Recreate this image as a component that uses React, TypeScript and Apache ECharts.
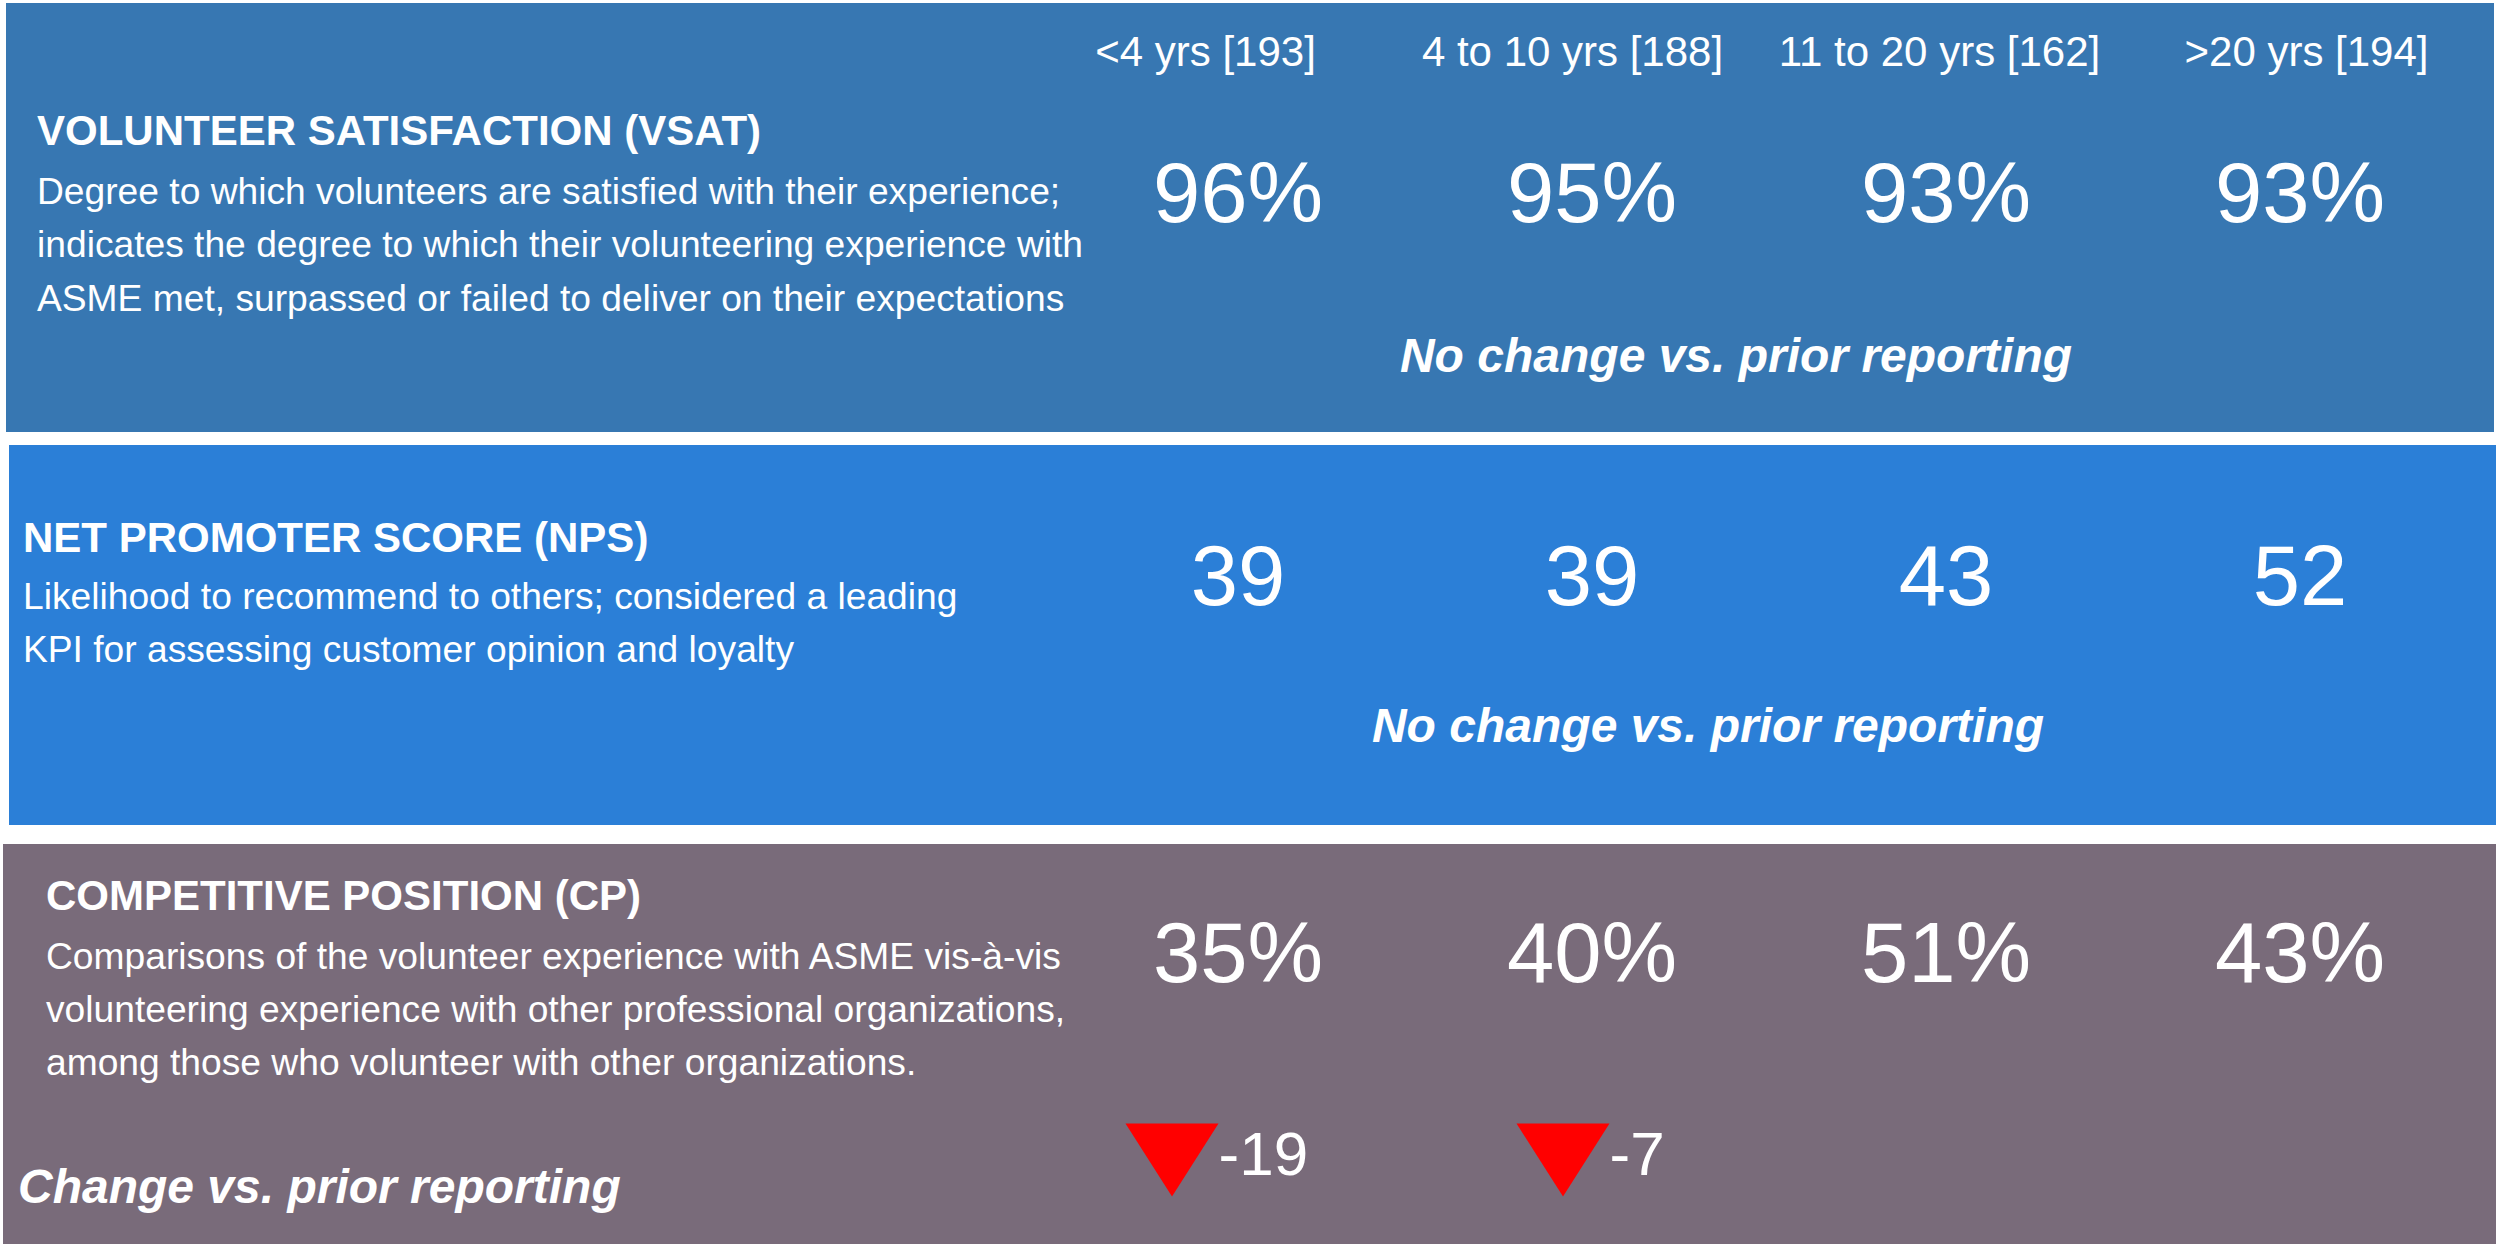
import { useEffect, useRef } from "react";
import * as echarts from "echarts";

// ---- data ----
const tenureGroups = ["<4 yrs [193]", "4 to 10 yrs [188]", "11 to 20 yrs [162]", ">20 yrs [194]"];
const metricKeys = ["VSAT", "NPS", "CP"];
const vsatValues = [96, 95, 93, 93];
const npsValues = [39, 39, 43, 52];
const cpValues = [35, 40, 51, 43];
const cpChange: (number | null)[] = [-19, -7, null, null];
const metricTitles = [
  "VOLUNTEER SATISFACTION (VSAT)",
  "NET PROMOTER SCORE (NPS)",
  "COMPETITIVE POSITION (CP)",
];
const metricDescriptions = [
  [
    "Degree to which volunteers are satisfied with their experience;",
    "indicates the degree to which their volunteering experience with",
    "ASME met, surpassed or failed to deliver on their expectations",
  ],
  [
    "Likelihood to recommend to others; considered a leading",
    "KPI for assessing customer opinion and loyalty",
  ],
  [
    "Comparisons of the volunteer experience with ASME vis-à-vis",
    "volunteering experience with other professional organizations,",
    "among those who volunteer with other organizations.",
  ],
];
const changeNotes = [
  "No change vs. prior reporting",
  "No change vs. prior reporting",
  "Change vs. prior reporting",
];
const valueSuffix = ["%", "", "%"];

// ---- styles ----
const FONT = "'Liberation Sans', Arial, Helvetica, sans-serif";
const panelColors = ["#3777B2", "#2B7FD7", "#796B7A"];

export default function App() {
  const ref = useRef<HTMLDivElement>(null);

  useEffect(() => {
    if (!ref.current) return;
    const chart = echarts.init(ref.current, null, { renderer: "svg" });

    const rowValues = [vsatValues, npsValues, cpValues];

    const panels = [
      { x: 6, y: 3, width: 2488, height: 429 },
      { x: 9, y: 445, width: 2487, height: 380 },
      { x: 3, y: 844, width: 2493, height: 400 },
    ];
    const textLeft = [37, 23, 46];
    const titleY = [130, 537, 895];
    const descTop = [164, 569, 929];
    const descLH = [53.5, 53, 53];
    const notePos = [
      { x: 1736, y: 355, align: "center" },
      { x: 1708, y: 725, align: "center" },
      { x: 18, y: 1186, align: "left" },
    ];

    const graphic: any[] = [];
    panels.forEach((p, i) => {
      graphic.push({ type: "rect", shape: p, style: { fill: panelColors[i] }, z: 0, silent: true });
    });
    metricTitles.forEach((t, i) => {
      graphic.push({
        type: "text", x: textLeft[i], y: titleY[i], z: 1,
        style: { text: t, fill: "#fff", fontSize: 42, fontWeight: "bold", fontFamily: FONT, align: "left", verticalAlign: "middle" },
      });
      graphic.push({
        type: "text", x: textLeft[i], y: descTop[i], z: 1,
        style: {
          text: metricDescriptions[i].join("\n"), fill: "#fff", fontSize: 37.2, fontFamily: FONT,
          lineHeight: descLH[i], align: "left", verticalAlign: "top",
        },
      });
      graphic.push({
        type: "text", x: notePos[i].x, y: notePos[i].y, z: 1,
        style: {
          text: changeNotes[i], fill: "#fff", fontSize: 48, fontWeight: "bold", fontStyle: "italic",
          fontFamily: FONT, align: notePos[i].align, verticalAlign: "middle",
        },
      });
    });

    const grids = [
      { left: 1022, width: 1468, top: 20, height: 31 },
      { left: 1061, width: 1416, top: 150, height: 84 },
      { left: 1061, width: 1416, top: 540, height: 70 },
      { left: 1061, width: 1416, top: 920, height: 64 },
      { left: 1172, width: 1173, top: 1130, height: 60 },
    ];
    const rowOfGrid = [0, 0, 1, 2, 2];

    const xAxis = grids.map((_, gi) => ({
      type: "category",
      gridIndex: gi,
      data: tenureGroups,
      show: gi === 0,
      boundaryGap: gi !== 4,
      axisLine: { show: false },
      axisTick: { show: false },
      splitLine: { show: false },
      axisLabel: {
        show: gi === 0, interval: 0, margin: 0, color: "#fff", fontSize: 42,
        fontFamily: FONT, verticalAlign: "middle",
      },
    }));
    const yAxis = grids.map((_, gi) => ({
      type: "category",
      gridIndex: gi,
      data: [metricKeys[rowOfGrid[gi]]],
      show: false,
    }));

    const series: any[] = rowValues.map((vals, r) => ({
      type: "scatter",
      xAxisIndex: r + 1,
      yAxisIndex: r + 1,
      symbol: "circle",
      symbolSize: 1,
      itemStyle: { color: "rgba(0,0,0,0)", opacity: 1 },
      data: vals.map((v, i) => [tenureGroups[i], metricKeys[r], v]),
      label: {
        show: true, position: "inside", color: "#fff", fontSize: 85, fontFamily: FONT,
        formatter: (p: any) => p.value[2] + valueSuffix[r],
      },
      emphasis: { disabled: true },
      z: 3,
    }));

    series.push({
      type: "scatter",
      xAxisIndex: 4,
      yAxisIndex: 4,
      symbol: "path://M0,0 L93,0 L46.5,73 Z",
      symbolSize: [93, 73],
      itemStyle: { color: "#FF0000", opacity: 1 },
      data: cpChange
        .map((v, i) => (v === null ? null : [tenureGroups[i], metricKeys[2], v]))
        .filter((d) => d !== null),
      label: {
        show: true, position: "right", distance: 0, color: "#fff", fontSize: 62, fontFamily: FONT,
        offset: [0, -7],
        formatter: (p: any) => String(p.value[2]),
      },
      emphasis: { disabled: true },
      z: 3,
    });

    chart.setOption({
      animation: false,
      backgroundColor: "#ffffff",
      graphic,
      grid: grids,
      xAxis,
      yAxis,
      series,
    });

    const onResize = () => chart.resize();
    window.addEventListener("resize", onResize);
    return () => {
      window.removeEventListener("resize", onResize);
      chart.dispose();
    };
  }, []);

  return (
    <div
      ref={ref}
      style={{ position: "fixed", left: 0, top: 0, width: "100vw", height: "100vh" }}
    />
  );
}
